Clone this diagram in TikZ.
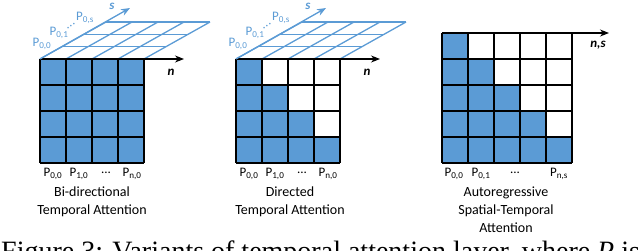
\documentclass[tikz,border=0pt]{standalone}
\usepackage{fontspec}
\setmainfont{Liberation Serif}
\newfontfamily\calfont{Carlito}
\usetikzlibrary{arrows.meta}
\definecolor{pblue}{HTML}{5B9BD5}
\begin{document}
\begin{tikzpicture}[x=1pt,y=-1pt,
  lab/.style={font=\calfont\fontsize{13}{16}\selectfont, inner sep=0pt},
  bluelab/.style={lab, text=pblue},
  capt/.style={font=\calfont\fontsize{14}{18}\selectfont, align=center, inner sep=0pt},
  axis/.style={-{Stealth[length=9pt,width=7pt]}, line width=1.1pt},
  gline/.style={line width=1.6pt},
  persp/.style={draw=pblue, line width=1.3pt},
  axlab/.style={font=\calfont\bfseries\itshape\fontsize{13}{16}\selectfont, inner sep=0pt}]
\useasboundingbox (0,0) rectangle (640,251);
\clip (0,0) rectangle (640,251);

% ---------- perspective grids (panels 1 and 2) ----------
\foreach \xo in {40,236}{
  \foreach \k in {0,1,2,3}{
    \draw[persp] ({\xo+\k*22},{59-\k*12.33}) -- ({\xo+104+\k*22},{59-\k*12.33});
  }
  \foreach \c in {0,...,4}{
    \draw[persp] ({\xo+26*\c},59) -- ({\xo+26*\c+66},22);
  }
}

% ---------- panel 1 ----------
\fill[pblue] (40,59) rectangle (144,163);
\foreach \i in {0,...,4}{
  \draw[gline] ({40+26*\i},59) -- ({40+26*\i},163);
  \draw[gline] (40,{59+26*\i}) -- (144,{59+26*\i});
}
% ---------- panel 2 ----------
\foreach \r in {0,...,3}{
  \foreach \c in {0,...,\r}{
    \fill[pblue] ({236+26*\c},{59+26*\r}) rectangle ++(26,26);
  }
}
\foreach \i in {0,...,4}{
  \draw[gline] ({236+26*\i},59) -- ({236+26*\i},163);
  \draw[gline] (236,{59+26*\i}) -- (340,{59+26*\i});
}
% ---------- panel 3 ----------
\foreach \r in {0,...,4}{
  \foreach \c in {0,...,\r}{
    \fill[pblue] ({442+26*\c},{33+26*\r}) rectangle ++(26,26);
  }
}
\foreach \i in {0,...,5}{
  \draw[gline] ({442+26*\i},33) -- ({442+26*\i},163);
  \draw[gline] (442,{33+26*\i}) -- (572,{33+26*\i});
}

% ---------- axes ----------
\coordinate (o1) at (40,59);   \coordinate (n1) at (184,59);  \coordinate (s1) at (130,8);
\coordinate (o2) at (236,59);  \coordinate (n2) at (380,59);  \coordinate (s2) at (326,8);
\coordinate (o3) at (442,33);  \coordinate (n3) at (609,33);
\draw[axis] (o1) -- (n1);
\draw[axis] (o2) -- (n2);
\draw[axis] (o3) -- (n3);
\draw[axis, draw=pblue, fill=pblue, line width=1.3pt] (o1) -- (s1);
\draw[axis, draw=pblue, fill=pblue, line width=1.3pt] (o2) -- (s2);

\node[axlab] (ln1) at (171,72) {n};
\node[axlab] (ln2) at (367,72) {n};
\node[axlab] (ln3) at (598,45) {n,s};
\node[axlab, text=pblue] (ls1) at (112,6) {s};
\node[axlab, text=pblue] (ls2) at (308,6) {s};

% ---------- blue labels ----------
\foreach \d/\nm in {0/a,196/b}{
  \node[bluelab] (p00\nm) at ({42+\d},44) {P\textsubscript{0,0}};
  \node[bluelab] (p01\nm) at ({59+\d},33) {P\textsubscript{0,1}};
  \node[bluelab, rotate=30] (pdd\nm) at ({71+\d},26) {...};
  \node[bluelab] (p0s\nm) at ({85+\d},18) {P\textsubscript{0,s}};
}

% ---------- bottom labels ----------
\node[lab] (b1a) at (53,174) {P\textsubscript{0,0}};
\node[lab] (b1b) at (79,174) {P\textsubscript{1,0}};
\node[lab] (b1c) at (106,173) {...};
\node[lab] (b1d) at (132,174) {P\textsubscript{n,0}};
\node[lab] (b2a) at (249,174) {P\textsubscript{0,0}};
\node[lab] (b2b) at (275,174) {P\textsubscript{1,0}};
\node[lab] (b2c) at (302,173) {...};
\node[lab] (b2d) at (328,174) {P\textsubscript{n,0}};
\node[lab] (b3a) at (454,174) {P\textsubscript{0,0}};
\node[lab] (b3b) at (481,174) {P\textsubscript{0,1}};
\node[lab] (b3c) at (515,173) {...};
\node[lab] (b3d) at (559,174) {P\textsubscript{n,s}};

% ---------- captions ----------
\node[capt, anchor=north] (c1) at (92,187) {Bi-directional\\Temporal Attention};
\node[capt, anchor=north] (c2) at (290,187) {Directed\\Temporal Attention};
\node[capt, anchor=north] (c3) at (506,187) {Autoregressive\\Spatial-Temporal\\Attention};

\node[anchor=base west, inner sep=0pt, font=\fontsize{28}{34}\selectfont] (fig) at (1,260)
  {Figure 3: Variants of temporal attention layer, where \textit{P} is};
\end{tikzpicture}
\end{document}
